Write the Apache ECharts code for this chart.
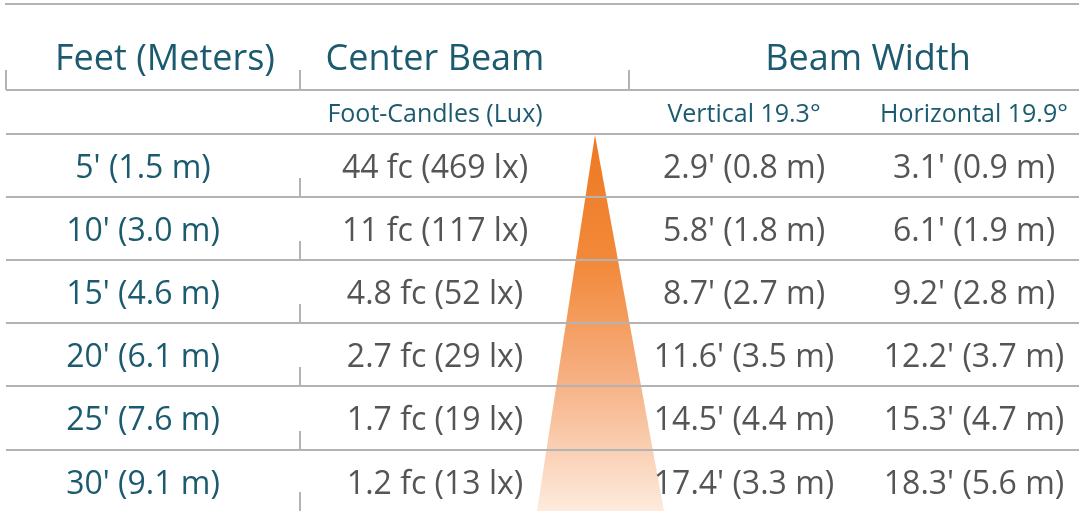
<!DOCTYPE html>
<html>
<head>
<meta charset="utf-8">
<script src="https://cdn.jsdelivr.net/npm/echarts@6/dist/echarts.min.js"></script>
<style>
  html, body { margin: 0; padding: 0; background: #fff; }
  #chart { width: 1079px; height: 511px; }
</style>
</head>
<body>
<div id="chart"></div>
<script>
// table content
const headers = ['Feet (Meters)', 'Center Beam', 'Beam Width'];
const subHeaders = ['Foot-Candles (Lux)', 'Vertical 19.3°', 'Horizontal 19.9°'];
const distances = ["5' (1.5 m)", "10' (3.0 m)", "15' (4.6 m)", "20' (6.1 m)", "25' (7.6 m)", "30' (9.1 m)"];
const centerBeam = ['44 fc (469 lx)', '11 fc (117 lx)', '4.8 fc (52 lx)', '2.7 fc (29 lx)', '1.7 fc (19 lx)', '1.2 fc (13 lx)'];
const verticalWidth = ["2.9' (0.8 m)", "5.8' (1.8 m)", "8.7' (2.7 m)", "11.6' (3.5 m)", "14.5' (4.4 m)", "17.4' (3.3 m)"];
const horizontalWidth = ["3.1' (0.9 m)", "6.1' (1.9 m)", "9.2' (2.8 m)", "12.2' (3.7 m)", "15.3' (4.7 m)", "18.3' (5.6 m)"];

// layout (axis units == pixels)
const W = 1079, H = 511;
const colX = [143, 435, 744, 974];
const headerX = [165, 435, 868];
const headerY = 60, subY = 115;
const rowLines = [197, 260, 323, 386, 450];
const rowY = [169, 232, 295, 358, 421, 485];

const TEAL = '#1b5a6f';
const GREY = '#555555';
const LINE = '#b3b3b3';
const FONT = 'Open Sans';

const chart = echarts.init(document.getElementById('chart'));

// text cells
const cells = [];
headers.forEach((t, i) => cells.push({ t, x: headerX[i], y: headerY, size: 36, color: TEAL }));
subHeaders.forEach((t, i) => cells.push({ t, x: colX[i + 1], y: subY, size: 25, color: TEAL }));
distances.forEach((t, i) => cells.push({ t, x: colX[0], y: rowY[i], size: 32, color: TEAL }));
centerBeam.forEach((t, i) => cells.push({ t, x: colX[1], y: rowY[i], size: 32, color: GREY }));
verticalWidth.forEach((t, i) => cells.push({ t, x: colX[2], y: rowY[i], size: 32, color: GREY }));
horizontalWidth.forEach((t, i) => cells.push({ t, x: colX[3], y: rowY[i], size: 32, color: GREY }));

// rule segments
const segs = [
  [5, 4, W, 4],
  [6, 90, W, 90],
  [6, 134, W, 134]
];
rowLines.forEach(y => segs.push([6, y, W, y]));
[6, 300, 629].forEach(x => segs.push([x, 70, x, 90]));
rowLines.concat([H]).forEach(y => segs.push([300, y - 19, 300, y]));

// light cone
const cone = [[595, 135], [537, H], [664, H]];

const option = {
  backgroundColor: '#fff',
  animation: false,
  grid: { left: 0, right: 0, top: 0, bottom: 0 },
  xAxis: { type: 'value', min: 0, max: W, show: false },
  yAxis: { type: 'value', min: 0, max: H, inverse: true, show: false },
  series: [
    {
      type: 'custom',
      z: 1,
      data: [0],
      renderItem: function (params, api) {
        const pts = cone.map(p => api.coord(p));
        return {
          type: 'polygon',
          shape: { points: pts },
          style: {
            fill: new echarts.graphic.LinearGradient(0, 0, 0, 1, [
              { offset: 0, color: '#ee7820' },
              { offset: 0.35, color: '#f28a3c' },
              { offset: 0.65, color: '#f6b083' },
              { offset: 1, color: '#fdebdd' }
            ])
          }
        };
      }
    },
    {
      type: 'custom',
      z: 2,
      data: segs,
      renderItem: function (params, api) {
        const a = api.coord([api.value(0), api.value(1)]);
        const b = api.coord([api.value(2), api.value(3)]);
        return {
          type: 'line',
          shape: { x1: a[0], y1: a[1], x2: b[0], y2: b[1] },
          style: { stroke: LINE, lineWidth: 2 }
        };
      }
    },
    {
      type: 'custom',
      z: 3,
      data: cells.map(c => [c.x, c.y]),
      renderItem: function (params, api) {
        const c = cells[params.dataIndex];
        const p = api.coord([api.value(0), api.value(1)]);
        return {
          type: 'text',
          x: p[0],
          y: p[1],
          style: {
            text: c.t,
            fill: c.color,
            fontFamily: FONT,
            fontSize: c.size,
            align: 'center',
            verticalAlign: 'middle'
          }
        };
      }
    }
  ]
};

chart.setOption(option);
</script>
</body>
</html>
